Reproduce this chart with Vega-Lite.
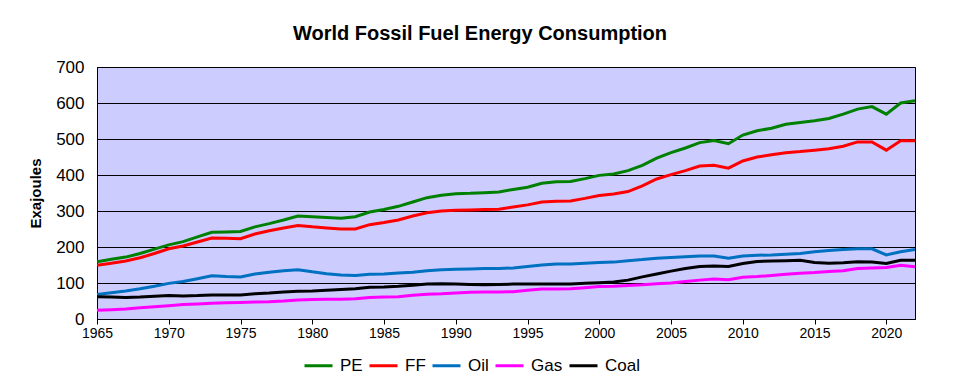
{
  "$schema": "https://vega.github.io/schema/vega-lite/v6.json",
  "width": 818,
  "height": 252,
  "autosize": {"type": "none"},
  "padding": {"left": 97, "top": 67, "right": 40, "bottom": 71},
  "background": "white",
  "title": {
    "text": "World Fossil Fuel Energy Consumption",
    "font": "Liberation Sans",
    "fontSize": 20,
    "fontWeight": "bold",
    "color": "black",
    "anchor": "middle",
    "baseline": "alphabetic",
    "offset": 25,
    "dx": -26,
    "dy": 27
  },
  "data": {
    "values": [
      {"Year": 1965, "PE": 159, "FF": 149, "Oil": 68, "Gas": 24, "Coal": 62},
      {"Year": 1966, "PE": 166, "FF": 155, "Oil": 73, "Gas": 26, "Coal": 61},
      {"Year": 1967, "PE": 172, "FF": 161, "Oil": 78, "Gas": 28, "Coal": 60},
      {"Year": 1968, "PE": 182, "FF": 170, "Oil": 84, "Gas": 31, "Coal": 61},
      {"Year": 1969, "PE": 194, "FF": 182, "Oil": 91, "Gas": 34, "Coal": 63},
      {"Year": 1970, "PE": 206, "FF": 195, "Oil": 99, "Gas": 37, "Coal": 65},
      {"Year": 1971, "PE": 215, "FF": 203, "Oil": 104, "Gas": 40, "Coal": 64},
      {"Year": 1972, "PE": 228, "FF": 214, "Oil": 112, "Gas": 42, "Coal": 65},
      {"Year": 1973, "PE": 241, "FF": 225, "Oil": 120, "Gas": 44, "Coal": 67},
      {"Year": 1974, "PE": 242, "FF": 224, "Oil": 118, "Gas": 45, "Coal": 67},
      {"Year": 1975, "PE": 243, "FF": 223, "Oil": 117, "Gas": 46, "Coal": 67},
      {"Year": 1976, "PE": 256, "FF": 236, "Oil": 125, "Gas": 47, "Coal": 70},
      {"Year": 1977, "PE": 265, "FF": 245, "Oil": 130, "Gas": 48, "Coal": 72},
      {"Year": 1978, "PE": 275, "FF": 253, "Oil": 134, "Gas": 50, "Coal": 75},
      {"Year": 1979, "PE": 286, "FF": 260, "Oil": 137, "Gas": 53, "Coal": 77},
      {"Year": 1980, "PE": 284, "FF": 256, "Oil": 131, "Gas": 54, "Coal": 78},
      {"Year": 1981, "PE": 282, "FF": 253, "Oil": 126, "Gas": 55, "Coal": 80},
      {"Year": 1982, "PE": 280, "FF": 250, "Oil": 122, "Gas": 55, "Coal": 82},
      {"Year": 1983, "PE": 284, "FF": 250, "Oil": 121, "Gas": 56, "Coal": 84},
      {"Year": 1984, "PE": 297, "FF": 262, "Oil": 124, "Gas": 60, "Coal": 88},
      {"Year": 1985, "PE": 304, "FF": 268, "Oil": 125, "Gas": 61, "Coal": 89},
      {"Year": 1986, "PE": 313, "FF": 275, "Oil": 128, "Gas": 62, "Coal": 91},
      {"Year": 1987, "PE": 325, "FF": 286, "Oil": 130, "Gas": 66, "Coal": 94},
      {"Year": 1988, "PE": 337, "FF": 295, "Oil": 134, "Gas": 69, "Coal": 97},
      {"Year": 1989, "PE": 344, "FF": 300, "Oil": 137, "Gas": 70, "Coal": 98},
      {"Year": 1990, "PE": 348, "FF": 302, "Oil": 138, "Gas": 72, "Coal": 97},
      {"Year": 1991, "PE": 349, "FF": 303, "Oil": 139, "Gas": 74, "Coal": 96},
      {"Year": 1992, "PE": 351, "FF": 304, "Oil": 140, "Gas": 75, "Coal": 95},
      {"Year": 1993, "PE": 353, "FF": 305, "Oil": 140, "Gas": 75, "Coal": 96},
      {"Year": 1994, "PE": 360, "FF": 311, "Oil": 142, "Gas": 76, "Coal": 97},
      {"Year": 1995, "PE": 366, "FF": 317, "Oil": 146, "Gas": 80, "Coal": 97},
      {"Year": 1996, "PE": 377, "FF": 325, "Oil": 150, "Gas": 83, "Coal": 97},
      {"Year": 1997, "PE": 381, "FF": 327, "Oil": 153, "Gas": 83, "Coal": 97},
      {"Year": 1998, "PE": 382, "FF": 328, "Oil": 153, "Gas": 84, "Coal": 97},
      {"Year": 1999, "PE": 390, "FF": 335, "Oil": 155, "Gas": 87, "Coal": 99},
      {"Year": 2000, "PE": 399, "FF": 343, "Oil": 157, "Gas": 90, "Coal": 101},
      {"Year": 2001, "PE": 403, "FF": 347, "Oil": 158, "Gas": 91, "Coal": 103},
      {"Year": 2002, "PE": 412, "FF": 354, "Oil": 162, "Gas": 93, "Coal": 108},
      {"Year": 2003, "PE": 427, "FF": 370, "Oil": 165, "Gas": 95, "Coal": 117},
      {"Year": 2004, "PE": 447, "FF": 389, "Oil": 169, "Gas": 98, "Coal": 125},
      {"Year": 2005, "PE": 462, "FF": 401, "Oil": 171, "Gas": 100, "Coal": 133},
      {"Year": 2006, "PE": 475, "FF": 412, "Oil": 173, "Gas": 104, "Coal": 140},
      {"Year": 2007, "PE": 490, "FF": 425, "Oil": 175, "Gas": 108, "Coal": 146},
      {"Year": 2008, "PE": 496, "FF": 427, "Oil": 175, "Gas": 111, "Coal": 147},
      {"Year": 2009, "PE": 487, "FF": 419, "Oil": 169, "Gas": 109, "Coal": 146},
      {"Year": 2010, "PE": 511, "FF": 439, "Oil": 175, "Gas": 116, "Coal": 154},
      {"Year": 2011, "PE": 523, "FF": 450, "Oil": 177, "Gas": 118, "Coal": 160},
      {"Year": 2012, "PE": 530, "FF": 456, "Oil": 178, "Gas": 121, "Coal": 161},
      {"Year": 2013, "PE": 541, "FF": 462, "Oil": 180, "Gas": 124, "Coal": 162},
      {"Year": 2014, "PE": 546, "FF": 465, "Oil": 182, "Gas": 127, "Coal": 163},
      {"Year": 2015, "PE": 551, "FF": 469, "Oil": 187, "Gas": 129, "Coal": 157},
      {"Year": 2016, "PE": 557, "FF": 473, "Oil": 190, "Gas": 132, "Coal": 155},
      {"Year": 2017, "PE": 569, "FF": 480, "Oil": 193, "Gas": 134, "Coal": 156},
      {"Year": 2018, "PE": 583, "FF": 492, "Oil": 195, "Gas": 140, "Coal": 159},
      {"Year": 2019, "PE": 590, "FF": 492, "Oil": 195, "Gas": 142, "Coal": 158},
      {"Year": 2020, "PE": 569, "FF": 469, "Oil": 178, "Gas": 143, "Coal": 154},
      {"Year": 2021, "PE": 600, "FF": 495, "Oil": 187, "Gas": 149, "Coal": 163},
      {"Year": 2022, "PE": 606, "FF": 495, "Oil": 193, "Gas": 145, "Coal": 163}
    ]
  },
  "transform": [
    {"fold": ["PE", "FF", "Oil", "Gas", "Coal"], "as": ["Series", "Value"]}
  ],
  "mark": {"type": "line", "strokeWidth": 3, "clip": true},
  "encoding": {
    "x": {
      "field": "Year",
      "type": "quantitative",
      "scale": {"domain": [1965, 2022], "nice": false, "zero": false},
      "axis": {
        "values": [1965, 1970, 1975, 1980, 1985, 1990, 1995, 2000, 2005, 2010, 2015, 2020],
        "format": "d",
        "title": null,
        "grid": false,
        "labelFontSize": 14,
        "labelPadding": 2,
        "tickSize": 5,
        "labelFlush": false
      }
    },
    "y": {
      "field": "Value",
      "type": "quantitative",
      "scale": {"domain": [0, 700], "nice": false},
      "axis": {
        "values": [0, 100, 200, 300, 400, 500, 600, 700],
        "title": "Exajoules",
        "titleFontSize": 15,
        "titleFontWeight": "bold",
        "titlePadding": 12,
        "labelFontSize": 17,
        "labelPadding": 13,
        "ticks": false,
        "grid": true,
        "gridColor": "black",
        "gridOpacity": 1,
        "gridWidth": 1
      }
    },
    "color": {
      "field": "Series",
      "type": "nominal",
      "sort": ["PE", "FF", "Oil", "Gas", "Coal"],
      "scale": {
        "domain": ["PE", "FF", "Oil", "Gas", "Coal"],
        "range": ["#008000", "#FF0000", "#0070C0", "#FF00FF", "#000000"]
      },
      "legend": {
        "title": null,
        "orient": "none",
        "direction": "horizontal",
        "legendX": 206,
        "legendY": 283,
        "symbolType": "stroke",
        "symbolSize": 784,
        "symbolStrokeWidth": 3,
        "labelFontSize": 17,
        "labelOffset": 6,
        "columnPadding": 0,
        "symbolOffset": 0
      }
    }
  },
  "config": {
    "font": "Liberation Sans",
    "view": {"fill": "#CCCCFF", "stroke": "black", "strokeWidth": 1},
    "axis": {
      "domainColor": "black",
      "tickColor": "black",
      "labelColor": "black",
      "titleColor": "black",
      "labelFont": "Liberation Sans",
      "titleFont": "Liberation Sans"
    },
    "legend": {"labelColor": "black", "labelFont": "Liberation Sans"}
  }
}
